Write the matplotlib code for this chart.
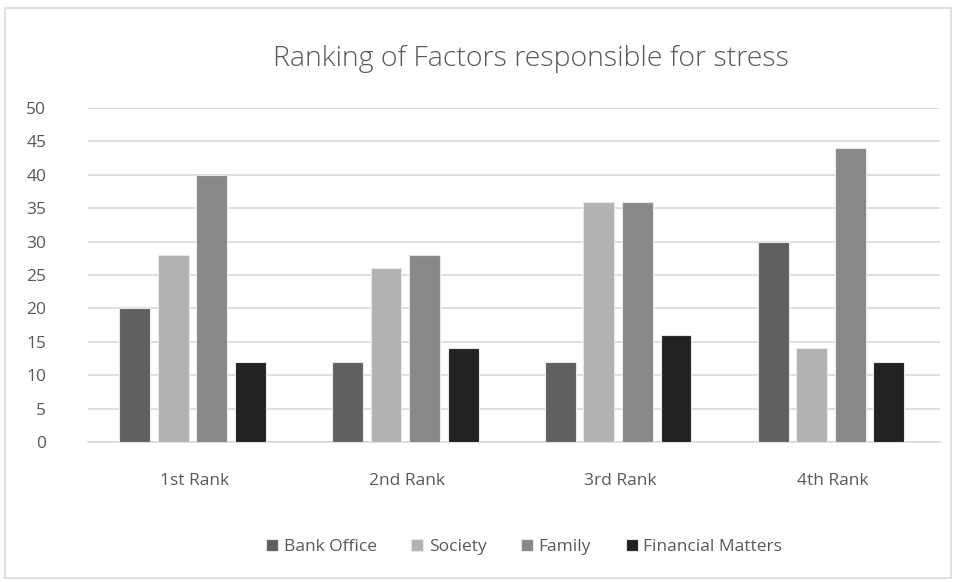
import matplotlib.pyplot as plt
import numpy as np
from matplotlib.patches import Rectangle

categories = ["1st Rank", "2nd Rank", "3rd Rank", "4th Rank"]
series_names = ["Bank Office", "Society", "Family", "Financial Matters"]
bank_office = [20, 12, 12, 30]
society = [28, 26, 36, 14]
family = [40, 28, 36, 44]
financial = [12, 14, 16, 12]
colors = ["#606060", "#b2b2b2", "#888888", "#222222"]

plt.rcParams['font.family'] = ['Open Sans', 'DejaVu Sans']

fig = plt.figure(figsize=(9.58, 5.82), dpi=100)
ax = fig.add_axes([0.0919, 0.2405, 0.889, 0.574])

x = np.arange(len(categories))
width = 0.145
step = 0.181
all_vals = [bank_office, society, family, financial]
for i, vals in enumerate(all_vals):
    ax.bar(x + (i - 1.5) * step - 0.01, vals, width, color=colors[i], label=series_names[i],
           edgecolor="#e8e8e8", linewidth=0.8, zorder=3)

ax.set_xlim(-0.5, 3.5)
ax.set_ylim(0, 50)
ax.set_yticks(range(0, 51, 5))
ax.set_xticks(x)
ax.set_xticklabels(categories)
ax.grid(axis='y', color="#d9d9d9", linewidth=1.2, zorder=0)
for s in ['top', 'right', 'left']:
    ax.spines[s].set_visible(False)
ax.spines['bottom'].set_color("#d9d9d9")
ax.spines['bottom'].set_linewidth(1.2)
ax.tick_params(axis='both', length=0, labelsize=12.5, labelcolor="#595959")
ax.tick_params(axis='y', pad=30)
ax.tick_params(axis='x', pad=22)
for lab in ax.get_yticklabels():
    lab.set_horizontalalignment('right')

fig.text(0.554, 0.898, "Ranking of Factors responsible for stress", ha='center', va='center',
         fontsize=20.5, color="#595959", fontweight='light')

fig.legend(loc='center', bbox_to_anchor=(0.547, 0.06), ncol=4, frameon=False,
           fontsize=12.5, labelcolor="#595959", handlelength=0.7, handleheight=0.7,
           handletextpad=0.3, columnspacing=2.0)

fig.patches.append(Rectangle((0.005, 0.007), 0.988, 0.98, transform=fig.transFigure,
                             fill=False, edgecolor="#d9d9d9", linewidth=1.2))

fig.savefig("out.png", dpi=100)
